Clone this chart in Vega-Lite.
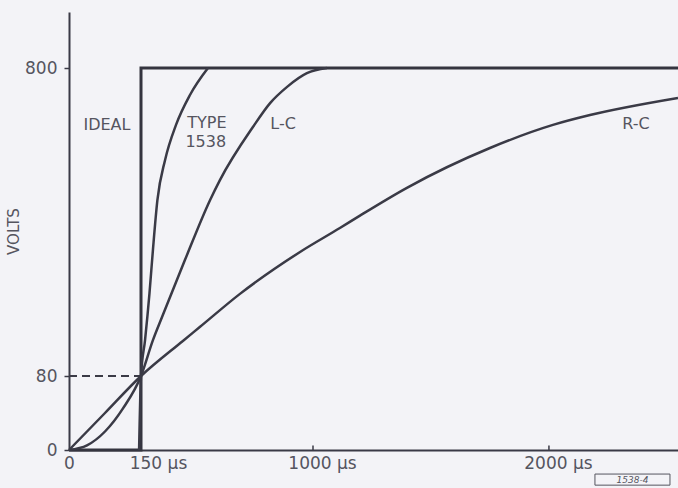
{
  "$schema": "https://vega.github.io/schema/vega-lite/v6.json",
  "autosize": {"type": "none"},
  "padding": {"left": 69, "top": 12, "right": 0, "bottom": 38},
  "width": 609,
  "height": 438,
  "background": "#f3f3f7",
  "config": {
    "view": {"stroke": null},
    "axis": {"grid": false, "domainColor": "#3a3a46", "domainWidth": 2, "tickColor": "#3a3a46", "tickWidth": 1.5, "labelColor": "#55555f", "labelFont": "DejaVu Sans", "labelFontSize": 17, "titleFont": "DejaVu Sans", "titleColor": "#55555f"},
    "text": {"font": "DejaVu Sans", "fill": "#55555f"}
  },
  "datasets": {
    "curves": [
      {"s": "Ideal", "t": 0, "v": 0, "i": 0},
      {"s": "Ideal", "t": 150, "v": 0, "i": 1},
      {"s": "Ideal", "t": 150, "v": 800, "i": 2},
      {"s": "Ideal", "t": 2547, "v": 800, "i": 3},
      {"s": "Type 1538", "t": 146, "v": 0, "i": 0},
      {"s": "Type 1538", "t": 150, "v": 80, "i": 1},
      {"s": "Type 1538", "t": 170, "v": 164, "i": 2},
      {"s": "Type 1538", "t": 192, "v": 274, "i": 3},
      {"s": "Type 1538", "t": 209, "v": 375, "i": 4},
      {"s": "Type 1538", "t": 231, "v": 491, "i": 5},
      {"s": "Type 1538", "t": 269, "v": 585, "i": 6},
      {"s": "Type 1538", "t": 323, "v": 667, "i": 7},
      {"s": "Type 1538", "t": 392, "v": 737, "i": 8},
      {"s": "Type 1538", "t": 481, "v": 800, "i": 9},
      {"s": "L-C", "t": 0, "v": 0, "i": 0},
      {"s": "L-C", "t": 37.5, "v": 5, "i": 1},
      {"s": "L-C", "t": 75, "v": 20, "i": 2},
      {"s": "L-C", "t": 112.5, "v": 45, "i": 3},
      {"s": "L-C", "t": 150, "v": 80, "i": 4},
      {"s": "L-C", "t": 209, "v": 164, "i": 5},
      {"s": "L-C", "t": 254, "v": 218, "i": 6},
      {"s": "L-C", "t": 367, "v": 351, "i": 7},
      {"s": "L-C", "t": 491, "v": 491, "i": 8},
      {"s": "L-C", "t": 540, "v": 538, "i": 9},
      {"s": "L-C", "t": 703, "v": 662, "i": 10},
      {"s": "L-C", "t": 788, "v": 718, "i": 11},
      {"s": "L-C", "t": 872, "v": 756, "i": 12},
      {"s": "L-C", "t": 970, "v": 788, "i": 13},
      {"s": "L-C", "t": 1059, "v": 800, "i": 14},
      {"s": "R-C", "t": 0, "v": 0, "i": 0},
      {"s": "R-C", "t": 75, "v": 40, "i": 1},
      {"s": "R-C", "t": 150, "v": 80, "i": 2},
      {"s": "R-C", "t": 357, "v": 162, "i": 3},
      {"s": "R-C", "t": 442, "v": 195, "i": 4},
      {"s": "R-C", "t": 639, "v": 272, "i": 5},
      {"s": "R-C", "t": 936, "v": 370, "i": 6},
      {"s": "R-C", "t": 1114, "v": 426, "i": 7},
      {"s": "R-C", "t": 1199, "v": 455, "i": 8},
      {"s": "R-C", "t": 1398, "v": 520, "i": 9},
      {"s": "R-C", "t": 1750, "v": 613, "i": 10},
      {"s": "R-C", "t": 2017, "v": 667, "i": 11},
      {"s": "R-C", "t": 2174, "v": 690, "i": 12},
      {"s": "R-C", "t": 2547, "v": 730, "i": 13}
    ],
    "labels": [
      {"label": "IDEAL", "t": 79, "v": 667},
      {"label": "TYPE", "t": 476, "v": 671},
      {"label": "1538", "t": 470, "v": 627},
      {"label": "L-C", "t": 852, "v": 669},
      {"label": "R-C", "t": 2369, "v": 669}
    ],
    "dash": [{"t": 0, "t2": 150, "v": 80}],
    "xticks": [{"t": 1000, "v": 0, "v2": 5}, {"t": 2000, "v": 0, "v2": 5}],
    "stamp": [{"t": 2195, "t2": 2513, "v": -26, "v2": -38, "label": "1538-4", "tm": 2354, "vm": -32}]
  },
  "layer": [
    {
      "data": {"name": "dash"},
      "mark": {"type": "rule", "strokeDash": [8, 5], "strokeWidth": 2, "color": "#3a3a46"},
      "encoding": {
        "x": {"field": "t", "type": "quantitative", "scale": {"domain": [0, 150, 1000, 2547], "range": [0, 72, 244, 609], "nice": false, "zero": false},
          "axis": {"values": [0, 150, 1000, 2000], "ticks": false, "labelFlush": false, "labelPadding": 5, "title": null, "labelExpr": "datum.value == 0 ? '0' : datum.value + ' μs'", "labelOffset": {"condition": [{"test": "datum.value == 0", "value": 0}, {"test": "datum.value == 150", "value": 17}], "value": 9}}},
        "x2": {"field": "t2"},
        "y": {"field": "v", "type": "quantitative", "scale": {"domain": [0, 80, 931], "range": [438, 364, 0], "nice": false, "zero": false},
          "axis": {"values": [0, 80, 800], "tickSize": 5, "labelFlush": false, "labelPadding": 7, "title": "VOLTS", "titleFontSize": 15, "titleFontWeight": "normal", "titlePadding": 3}}
      }
    },
    {
      "data": {"name": "curves"},
      "transform": [{"filter": "datum.s == 'Ideal'"}],
      "mark": {"type": "line", "strokeWidth": 3, "color": "#34343f", "interpolate": "linear"},
      "encoding": {
        "x": {"field": "t", "type": "quantitative"},
        "y": {"field": "v", "type": "quantitative"},
        "order": {"field": "i", "type": "quantitative"}
      }
    },
    {
      "data": {"name": "curves"},
      "transform": [{"filter": "datum.s != 'Ideal'"}],
      "mark": {"type": "line", "strokeWidth": 2.5, "color": "#3a3a46", "interpolate": "monotone"},
      "encoding": {
        "x": {"field": "t", "type": "quantitative"},
        "y": {"field": "v", "type": "quantitative"},
        "detail": {"field": "s"},
        "order": {"field": "i", "type": "quantitative"}
      }
    },
    {
      "data": {"name": "xticks"},
      "mark": {"type": "rule", "strokeWidth": 1.5, "color": "#3a3a46"},
      "encoding": {
        "x": {"field": "t", "type": "quantitative"},
        "y": {"field": "v", "type": "quantitative"},
        "y2": {"field": "v2"}
      }
    },
    {
      "data": {"name": "labels"},
      "mark": {"type": "text", "fontSize": 16, "align": "center", "baseline": "middle"},
      "encoding": {
        "x": {"field": "t", "type": "quantitative"},
        "y": {"field": "v", "type": "quantitative"},
        "text": {"field": "label"}
      }
    },
    {
      "data": {"name": "stamp"},
      "mark": {"type": "rect", "fill": null, "stroke": "#55555f", "strokeWidth": 1},
      "encoding": {
        "x": {"field": "t", "type": "quantitative"},
        "x2": {"field": "t2"},
        "y": {"field": "v", "type": "quantitative"},
        "y2": {"field": "v2"}
      }
    },
    {
      "data": {"name": "stamp"},
      "mark": {"type": "text", "fontSize": 9, "fontStyle": "italic", "align": "center", "baseline": "middle"},
      "encoding": {
        "x": {"field": "tm", "type": "quantitative"},
        "y": {"field": "vm", "type": "quantitative"},
        "text": {"field": "label"}
      }
    }
  ]
}
